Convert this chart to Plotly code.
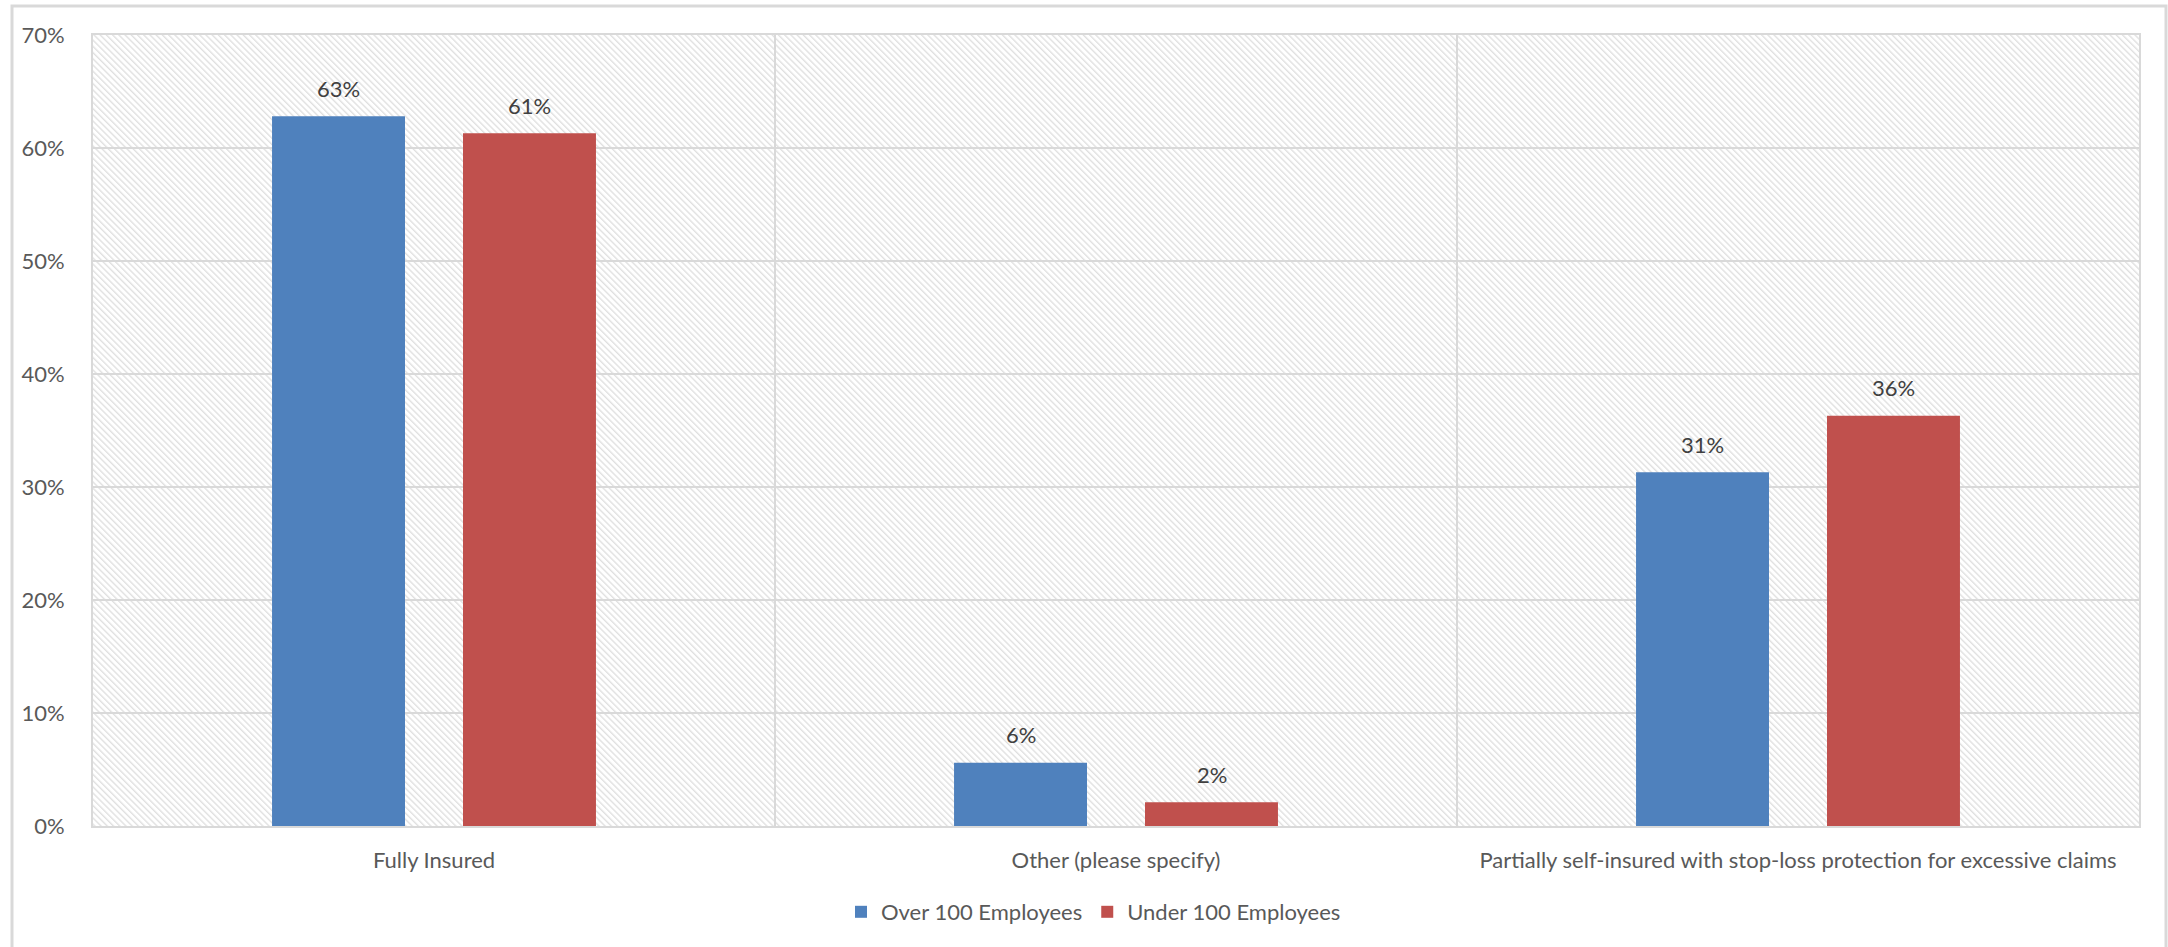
import base64
import plotly.graph_objects as go

# Funding arrangement survey results
categories = [
    "Fully Insured",
    "Other (please specify)",
    "Partially self-insured with stop-loss protection for excessive claims",
]
over_100 = [0.628, 0.056, 0.313]
under_100 = [0.613, 0.021, 0.363]
series_names = ["Over 100 Employees", "Under 100 Employees"]
y_ticks = [0, 0.1, 0.2, 0.3, 0.4, 0.5, 0.6, 0.7]

BLUE = "#4F81BD"
RED = "#C0504D"
GRID = "#D9D9D9"
FONT = "Lato"
FS = 22

W, H = 2168, 947
M = dict(l=93, r=29, t=35, b=121)
PW = W - M["l"] - M["r"]
PH = H - M["t"] - M["b"]

# light downward-diagonal hatch used as the plot-area fill
hatch_svg = (
    f'<svg xmlns="http://www.w3.org/2000/svg" width="{PW}" height="{PH}" '
    f'viewBox="0 0 {PW} {PH}">'
    '<defs><pattern id="h" patternUnits="userSpaceOnUse" width="4.4" height="4.4" '
    'patternTransform="rotate(-45)">'
    '<rect x="0" y="0" width="1.4" height="4.4" fill="#E0E0E0"/></pattern></defs>'
    f'<rect width="{PW}" height="{PH}" fill="#FFFFFF"/>'
    f'<rect width="{PW}" height="{PH}" fill="url(#h)"/></svg>'
)
hatch_uri = "data:image/svg+xml;base64," + base64.b64encode(hatch_svg.encode()).decode()

fig = go.Figure()
for name, vals, color in [(series_names[0], over_100, BLUE), (series_names[1], under_100, RED)]:
    fig.add_trace(go.Bar(
        name=name, x=categories, y=vals,
        marker=dict(color=color, line=dict(width=0)),
    ))

# value labels above each bar
BAR_SHIFT = 95.5
for vals, shift in [(over_100, -BAR_SHIFT), (under_100, BAR_SHIFT)]:
    for cat, v in zip(categories, vals):
        fig.add_annotation(
            x=cat, y=v, xref="x", yref="y", text=f"{v:.0%}",
            showarrow=False, xshift=shift, yshift=28, yanchor="middle",
            font=dict(family=FONT, size=FS, color="#404040"),
        )

# outer chart frame
fig.add_shape(
    type="rect", xref="paper", yref="paper",
    x0=(12 - M["l"]) / PW, x1=(2166 - M["l"]) / PW,
    y0=-0.3, y1=(H - M["b"] - 6) / PH,
    line=dict(color=GRID, width=3), fillcolor="rgba(0,0,0,0)", layer="below",
)

fig.add_layout_image(
    source=hatch_uri, xref="paper", yref="paper", x=0, y=1,
    sizex=1, sizey=1, xanchor="left", yanchor="top",
    sizing="stretch", layer="below",
)

fig.update_layout(
    width=W, height=H, margin=M,
    paper_bgcolor="white", plot_bgcolor="white",
    barmode="group", bargap=0.44, bargroupgap=0.3037,
    font=dict(family=FONT, size=FS, color="#595959"),
    showlegend=True,
    legend=dict(
        orientation="h", x=0.489, xanchor="center", y=(H - M["b"] - 912) / PH, yanchor="middle",
        font=dict(family=FONT, size=FS, color="#595959"),
        itemwidth=30, traceorder="normal", bgcolor="rgba(0,0,0,0)",
    ),
    xaxis=dict(
        type="category", tickson="boundaries", showgrid=True,
        gridcolor=GRID, gridwidth=2, showline=True, mirror=True,
        linecolor=GRID, linewidth=2, ticks="", ticklabelstandoff=14,
        tickfont=dict(family=FONT, size=FS, color="#595959"),
    ),
    yaxis=dict(
        range=[0, 0.7], tickvals=y_ticks, tickformat=".0%",
        showgrid=True, gridcolor=GRID, gridwidth=2, zeroline=False,
        showline=True, mirror=True, linecolor=GRID, linewidth=2,
        ticks="", ticklabelstandoff=22,
        tickfont=dict(family=FONT, size=FS, color="#595959"),
    ),
)

fig.write_html("out.html")
